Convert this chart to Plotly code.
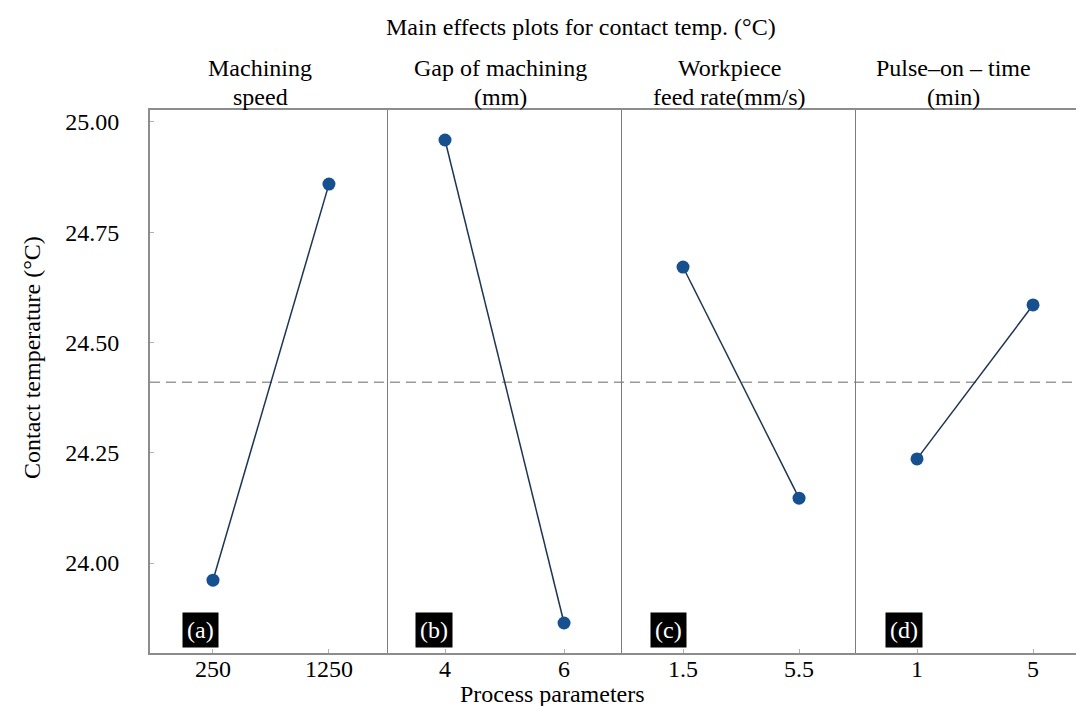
import plotly.graph_objects as go
from plotly.subplots import make_subplots

# ---------------- data ----------------
speed_levels = ["250", "1250"]
speed_means = [23.961, 24.859]
gap_levels = ["4", "6"]
gap_means = [24.959, 23.864]
feed_levels = ["1.5", "5.5"]
feed_means = [24.671, 24.147]
pulse_levels = ["1", "5"]
pulse_means = [24.236, 24.585]
grand_mean = 24.41

panel_headers = [["Machining", "speed"], ["Gap of machining", "(mm)"],
                 ["Workpiece", "feed rate(mm/s)"], ["Pulse–on – time", "(min)"]]
panel_tags = ["(a)", "(b)", "(c)", "(d)"]
y_ticks = [24.00, 24.25, 24.50, 24.75, 25.00]
title_text = "Main effects plots for contact temp. (°C)"
y_title = "Contact temperature (°C)"
x_title = "Process parameters"

levels = [speed_levels, gap_levels, feed_levels, pulse_levels]
means = [speed_means, gap_means, feed_means, pulse_means]

# ---------------- layout geometry (screen pixels) ----------------
OFF = 8                      # page body margin
SW, SH = 1084, 706           # screen size
W, H = SW - OFF, SH - OFF    # figure div size
plot_left, plot_right, plot_top, plot_bottom = 150, 1082, 110, 653
L = plot_left - OFF
R = W - (plot_right - OFF)
T = plot_top - OFF
B = H - (plot_bottom - OFF)
PW, PH = plot_right - plot_left, plot_bottom - plot_top
edges = [150, 388, 622, 856, 1082]
xranges = [[-0.543, 1.509], [-0.479, 1.487], [-0.526, 1.491], [-0.526, 1.422]]
header_cx = [260, 500, 729, 953]
tag_left = [182, 415, 650, 885]


def px(x):
    return (x - plot_left) / PW


def py(y):
    return (plot_bottom - y) / PH


FONT = "Liberation Serif, Times New Roman, serif"
LINE_COL = "#8c8c8c"

fig = make_subplots(rows=1, cols=4, shared_yaxes=True, horizontal_spacing=0)

for i in range(4):
    fig.add_trace(
        go.Scatter(
            x=levels[i], y=means[i], mode="lines+markers",
            line=dict(color="#1d3550", width=1.5),
            marker=dict(color="#17508f", size=13),
            showlegend=False, hoverinfo="x+y",
        ),
        row=1, col=i + 1,
    )

ylo, yhi = 23.796, 25.027
for i in range(4):
    xa = "xaxis" if i == 0 else f"xaxis{i+1}"
    ya = "yaxis" if i == 0 else f"yaxis{i+1}"
    fig.layout[xa].update(
        domain=[px(edges[i]), px(edges[i + 1])],
        type="category", range=xranges[i],
        showline=True, mirror=True, linecolor=LINE_COL, linewidth=1.5,
        ticks="inside", ticklen=4, tickcolor="#b0b0b0",
        showgrid=False, zeroline=False,
        tickfont=dict(family=FONT, size=24, color="black"),
        ticklabelstandoff=-7,
    )
    fig.layout[ya].update(
        range=[ylo, yhi],
        showline=True, mirror=(i == 3), linecolor=LINE_COL if i == 0 else "#7d7d7d",
        linewidth=2 if i == 0 else 1.3,
        showgrid=False, zeroline=False,
        tickvals=y_ticks, tickformat=".2f",
        ticks="inside" if i == 0 else "", ticklen=4, tickcolor="#b0b0b0",
        tickfont=dict(family=FONT, size=24, color="black"),
        showticklabels=(i == 0),
        ticklabelstandoff=24,
    )

# grand mean reference line
fig.add_shape(type="line", xref="paper", yref="y", x0=0, x1=1,
              y0=grand_mean, y1=grand_mean,
              line=dict(color="#9a9a9a", width=1.5, dash="10px,6px"), layer="below")

annots = []
annots.append(dict(text=title_text, x=px(581), y=py(27), xref="paper", yref="paper",
                   showarrow=False, xanchor="center", yanchor="middle",
                   font=dict(family=FONT, size=24, color="black")))
for i in range(4):
    annots.append(dict(text=panel_headers[i][0], x=px(header_cx[i]), y=py(68),
                       xref="paper", yref="paper", showarrow=False,
                       xanchor="center", yanchor="middle",
                       font=dict(family=FONT, size=24, color="black")))
    annots.append(dict(text=panel_headers[i][1], x=px(header_cx[i]), y=py(97),
                       xref="paper", yref="paper", showarrow=False,
                       xanchor="center", yanchor="middle",
                       font=dict(family=FONT, size=24, color="black")))
    annots.append(dict(text=panel_tags[i], x=px(tag_left[i]), y=py(648),
                       xref="paper", yref="paper", showarrow=False,
                       xanchor="left", yanchor="bottom",
                       bgcolor="black", borderpad=4,
                       font=dict(family=FONT, size=24, color="white")))
annots.append(dict(text=x_title, x=px(552), y=py(694), xref="paper", yref="paper",
                   showarrow=False, xanchor="center", yanchor="middle",
                   font=dict(family=FONT, size=24, color="black")))
annots.append(dict(text=y_title, x=px(32), y=py(358), xref="paper", yref="paper",
                   showarrow=False, xanchor="center", yanchor="middle", textangle=-90,
                   font=dict(family=FONT, size=24, color="black")))

fig.update_layout(
    width=W, height=H,
    margin=dict(l=L, r=R, t=T, b=B, pad=0),
    paper_bgcolor="white", plot_bgcolor="white",
    annotations=annots,
    font=dict(family=FONT, size=24, color="black"),
)

fig.write_html("out.html")
